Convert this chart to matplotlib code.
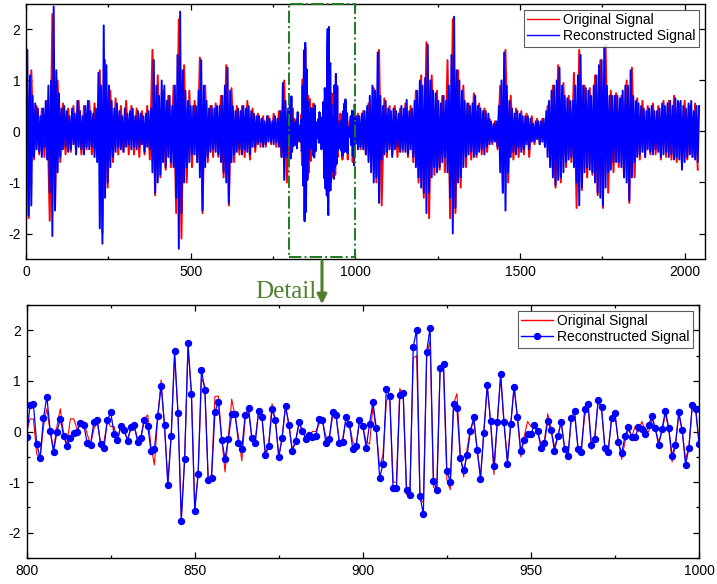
import matplotlib
matplotlib.use("Agg")
import matplotlib.pyplot as plt
import numpy as np
from matplotlib.patches import Rectangle, FancyArrowPatch
from matplotlib.ticker import MultipleLocator

plt.rcParams["font.family"] = ["Liberation Sans", "DejaVu Sans"]
plt.rcParams["axes.unicode_minus"] = False

# ---- detail window (samples 800..1000), read point by point ----
detail_start = 800
recon_detail = [
    -0.10, 0.52, 0.54, -0.25, -0.53, 0.27, 0.69, 0.01, -0.40, 0.00,
    0.25, -0.08, -0.29, -0.12, -0.02, 0.00, 0.17, 0.13, -0.23, -0.26,
    0.19, 0.23, -0.25, -0.33, 0.23, 0.38, -0.05, -0.16, 0.11, 0.03,
    -0.18, 0.08, 0.12, -0.20, -0.12, 0.23, 0.11, -0.39, -0.35, 0.31,
    0.90, 0.13, -1.06, -0.09, 1.59, 0.36, -1.76, -0.55, 1.74, 0.74,
    -1.58, -0.84, 1.22, 0.82, -0.95, -0.91, 0.38, 0.59, -0.16, -0.54,
    -0.14, 0.34, 0.35, -0.22, -0.34, 0.33, 0.46, -0.13, -0.23, 0.41,
    0.28, -0.47, -0.28, 0.45, 0.22, -0.51, -0.12, 0.51, 0.13, -0.39,
    -0.19, 0.18, 0.01, -0.14, -0.07, -0.11, -0.09, 0.24, 0.23, -0.22,
    -0.14, 0.38, 0.33, -0.22, -0.20, 0.28, 0.15, -0.35, -0.28, 0.22,
    0.10, -0.32, 0.15, 0.58, 0.06, -0.91, -0.65, 0.85, 0.70, -1.12,
    -1.11, 0.72, 0.77, -1.16, -1.26, 1.68, 2.01, -1.28, -1.64, 1.57,
    2.05, -0.97, -1.16, 1.25, 1.34, -0.78, -0.99, 0.54, 0.47, -0.53,
    -0.77, -0.47, 0.01, 0.28, -0.36, -0.93, -0.02, 0.91, 0.20, -0.69,
    0.19, 1.13, 0.18, -0.64, 0.14, 0.88, 0.28, -0.38, -0.16, -0.05,
    -0.05, 0.13, 0.01, -0.33, -0.23, 0.20, 0.03, -0.38, -0.09, 0.19,
    -0.34, -0.48, 0.26, 0.40, -0.34, -0.41, 0.45, 0.55, -0.26, -0.14,
    0.63, 0.48, -0.32, -0.40, 0.26, 0.36, -0.21, -0.43, -0.09, 0.08,
    -0.11, -0.11, 0.08, 0.05, -0.05, 0.12, 0.30, 0.06, -0.27, 0.05,
    0.41, 0.07, -0.48, -0.26, 0.38, 0.03, -0.66, -0.32, 0.53, 0.45,
    -0.24,
]
orig_detail = [
    0.00, 0.25, 0.25, -0.45, -0.52, 0.10, 0.45, 0.00, -0.35, 0.10,
    0.45, -0.05, -0.25, 0.25, 0.25, 0.05, 0.15, 0.20, -0.05, -0.25,
    0.05, 0.20, -0.25, -0.20, 0.20, 0.10, 0.10, -0.20, 0.10, 0.00,
    -0.15, 0.05, 0.10, -0.15, -0.10, 0.25, 0.33, -0.30, -0.66, 0.30,
    1.02, 0.10, -1.00, -0.05, 1.50, 0.40, -1.70, -0.50, 1.65, 0.80,
    -1.50, -0.85, 1.05, 0.90, -0.95, -0.85, 0.69, 0.70, -0.10, -0.80,
    -0.10, 0.64, 0.30, -0.10, -0.58, 0.25, 0.40, -0.15, -0.15, 0.40,
    0.28, -0.45, -0.25, 0.55, 0.20, -0.50, -0.10, 0.50, 0.15, -0.35,
    -0.20, 0.15, 0.05, -0.10, -0.10, 0.00, 0.00, 0.15, 0.20, -0.10,
    -0.15, 0.30, 0.35, -0.20, -0.15, 0.25, 0.15, -0.20, -0.30, 0.20,
    0.10, -0.20, -0.25, 0.50, 0.00, -0.70, -0.45, 0.60, 0.70, -1.00,
    -1.00, 0.85, 0.70, -1.25, -1.20, 1.45, 1.50, -1.35, -1.40, 1.50,
    1.80, -1.10, -1.15, 1.30, 1.20, -0.95, -1.15, 0.55, 0.75, -0.45,
    -0.90, -0.35, 0.05, 0.20, -0.35, -0.90, 0.00, 0.90, 0.20, -0.85,
    0.20, 1.10, 0.15, -0.55, 0.15, 0.90, 0.25, -0.50, -0.10, 0.20,
    0.10, 0.10, 0.00, -0.25, -0.20, 0.35, 0.05, -0.30, -0.10, 0.20,
    -0.30, -0.55, 0.25, 0.30, -0.30, -0.30, 0.30, 0.50, -0.35, -0.10,
    0.60, 0.45, -0.35, -0.35, 0.25, 0.35, -0.20, -0.55, -0.20, 0.05,
    -0.10, 0.10, 0.00, 0.20, 0.00, 0.00, 0.25, 0.05, -0.20, 0.00,
    0.35, 0.05, -0.60, -0.25, 0.35, 0.00, -0.55, -0.30, 0.50, 0.45,
    -0.20,
]

# ---- full record, outside the detail window (read coarsely) ----
# reconstructed: every 4th sample, 0..796 and 1004..2044
recon_head = [
    -0.6, 1.6, -1.65, 1.1, -1.45, 0.7, -0.5, 0.55, -0.35, 0.45, -0.4, 0.3, -0.5, 0.45, -0.3, 0.6,
    -0.55, 0.9, -1.2, 1.0, -2.05, 2.45, -1.55, 1.2, -0.8, 0.75, -0.5, 0.45, -0.35, 0.5, -0.3, 0.4,
    -0.4, 0.3, -0.35, 0.45, -0.25, 0.35, -0.45, 0.6, -0.3, 0.4, -0.35, 0.3, -0.45, 0.5, -0.3, 0.6,
    -0.35, 0.4, -0.3, 0.35, -0.5, 0.45, -0.6, 1.15, -1.9, 0.9, -2.2, 2.08, -1.3, 1.3, -1.0, 0.9,
    -0.7, 0.6, -0.5, 0.45, -0.4, 0.55, -0.3, 0.4, -0.35, 0.3, -0.4, 0.45, -0.3, 0.35, -0.25, 0.4,
    -0.35, 0.45, -0.3, 0.3, -0.35, 0.4, -0.3, 0.35, -0.25, 0.3, -0.4, 0.35, -0.3, 0.4, -0.35, 0.45,
    -0.8, 1.4, -1.2, 0.9, -1.0, 0.7, -0.85, 1.0, -0.6, 0.9, -0.7, 0.6, -0.5, 0.7, -0.6, 0.5,
    -0.7, 0.9, -1.3, 1.5, -2.3, 2.35, -1.6, 1.2, -1.0, 0.8, -0.7, 0.6, -0.6, 0.5, -0.45, 0.5,
    -0.45, 0.5, -0.6, 0.8, -0.9, 1.4, -1.55, 0.9, -0.7, 0.6, -0.5, 0.45, -0.4, 0.5, -0.35, 0.45,
    -0.4, 0.5, -0.45, 0.5, -0.6, 0.7, -0.8, 0.9, -1.0, 1.25, -1.4, 0.8, -0.6, 0.5, -0.45, 0.4,
    -0.4, 0.45, -0.35, 0.4, -0.45, 0.5, -0.35, 0.45, -0.4, 0.5, -0.45, 0.4, -0.3, 0.35, -0.3, 0.3,
    -0.25, 0.3, -0.2, 0.25, -0.3, 0.2, -0.25, 0.3, -0.2, 0.25, -0.2, 0.2, -0.25, 0.3, -0.2, 0.25,
    -0.3, 0.4, -0.5, 0.95, -0.95, 0.6, -0.5, 0.45,
]
recon_tail = [
    0.3, -0.35, 0.3, -0.3, 0.35,
    -0.35, 0.4, -0.45, 0.5, -0.6, 0.7, -0.8, 0.9, -1.0, 0.8, -0.9, 1.55, -1.4, 0.7, -0.55, 0.5,
    -0.45, 0.6, -0.4, 0.45, -0.35, 0.4, -0.5, 0.45, -0.35, 0.4, -0.3, 0.35, -0.4, 0.5, -0.35, 0.45,
    -0.4, 0.62, -0.45, 0.4, -0.35, 0.45, -0.5, 0.6, -0.7, 0.8, -0.9, 1.0, -1.1, 0.9, -1.2, 1.05,
    -1.6, 1.7, -1.2, 1.0, -0.9, 0.8, -0.7, 0.75, -0.8, 0.6, -0.7, 0.55, -0.6, 0.7, -0.5, 0.6,
    -0.8, 0.9, -1.3, 1.5, -2.0, 2.25, -1.5, 1.2, -1.0, 1.0, -0.9, 0.8, -0.7, 0.6, -0.5, 0.55,
    -0.45, 0.5, -0.4, 0.55, -0.5, 0.7, -0.45, 0.5, -0.4, 0.45, -0.35, 0.4, -0.45, 0.4, -0.3, 0.35,
    -0.25, 0.2, -0.2, 0.15, -0.2, 0.2, -0.3, 0.5, -0.8, 1.0, -1.2, 1.55, -1.55, 0.9, -0.8, 0.6,
    -0.5, 0.45, -0.4, 0.35, -0.45, 0.4, -0.3, 0.35, -0.4, 0.3, -0.35, 0.3, -0.25, 0.3, -0.35, 0.25,
    -0.2, 0.15, -0.2, 0.2, -0.15, 0.2, -0.25, 0.2, -0.2, 0.25, -0.3, 0.4, -0.5, 0.6, -0.7, 0.8,
    -0.9, 0.9, -1.05, 1.0, -0.95, 1.25, -0.9, 0.9, -0.8, 0.7, -0.6, 0.65, -0.55, 0.6, -0.5, 0.6,
    -0.7, 0.9, -1.0, 1.1, -1.45, 1.5, -1.1, 0.9, -0.8, 0.85, -0.7, 0.8, -0.75, 0.7, -0.8, 0.9,
    -1.0, 1.1, -1.2, 1.3, -1.3, 1.4, -1.45, 1.65, -1.1, 0.9, -0.8, 0.7, -0.75, 0.7, -0.6, 0.7,
    -0.6, 0.7, -0.6, 0.65, -0.7, 0.8, -0.9, 0.9, -1.0, 0.9, -1.35, 1.2, -0.9, 0.7, -0.6, 0.6,
    -0.5, 0.55, -0.45, 0.5, -0.4, 0.45, -0.5, 0.4, -0.35, 0.45, -0.4, 0.5, -0.45, 0.4, -0.35, 0.4,
    -0.4, 0.45, -0.5, 0.55, -0.45, 0.5, -0.4, 0.55, -0.5, 0.6, -0.45, 0.5, -0.55, 0.65, -0.5, 0.6,
    -0.55, 0.6, -0.75, 0.5, -0.6, 0.45, -0.5, 0.55, -0.45, 0.6, -0.5, 0.4, -0.55, 0.5, -0.6, 0.5,
]
# original: every 8th sample, 0..792 and 1008..2040
orig_head = [
    0.5, -1.7, 1.2, -0.55, 0.5, -0.45, 0.45, -0.5, 0.6, -1.75,
    2.3, -1.5, 1.0, -0.6, 0.55, -0.45, 0.45, -0.4, 0.5, -0.4,
    0.6, -0.45, 0.5, -0.35, 0.6, -0.45, 0.55, -0.5, 1.2, -2.0,
    1.4, -1.1, 0.8, -0.6, 0.65, -0.45, 0.5, -0.4, 0.6, -0.45,
    0.5, -0.45, 0.45, -0.5, 0.4, -0.45, 0.5, -0.55, 1.6, -1.25,
    1.1, -0.9, 0.8, -0.75, 0.7, -0.7, 0.9, -1.6, 2.2, -2.1,
    1.3, -1.0, 0.8, -0.7, 0.6, -0.6, 1.45, -1.6, 0.9, -0.6,
    0.5, -0.5, 0.55, -0.5, 0.7, -0.9, 1.3, -1.45, 0.85, -0.6,
    0.5, -0.45, 0.5, -0.5, 0.6, -0.55, 0.45, -0.4, 0.35, -0.3,
    0.3, -0.3, 0.3, -0.25, 0.35, -0.3, 0.4, -0.5, 1.0, -1.0,
]
orig_tail = [
    0.35, -0.35, 0.4, -0.45, 0.55, -0.7, 0.85, -1.0, 1.6, -1.45,
    0.65, -0.5, 0.5, -0.45, 0.5, -0.5, 0.45, -0.4, 0.55, -0.5,
    0.5, -0.6, 0.8, -1.0, 1.1, -1.3, 1.75, -1.7, 1.1, -0.85,
    0.8, -0.75, 0.7, -0.8, 1.4, -1.7, 2.2, -1.6, 1.2, -1.1,
    0.9, -0.7, 0.55, -0.55, 0.75, -0.5, 0.55, -0.45, 0.45, -0.4,
    0.25, -0.25, 0.2, -0.35, 0.9, -1.2, 1.6, -1.0, 0.7, -0.55,
    0.45, -0.5, 0.4, -0.45, 0.35, -0.5, 0.3, -0.25, 0.25, -0.25,
    0.25, -0.3, 0.5, -0.7, 0.9, -1.1, 1.3, -1.0, 0.95, -0.7,
    0.7, -0.6, 1.15, -1.5, 1.6, -1.15, 0.9, -0.9, 0.85, -0.85,
    1.1, -1.25, 1.4, -1.5, 1.7, -1.2, 0.8, -0.8, 0.75, -0.7,
    0.7, -0.9, 1.0, -1.4, 1.25, -0.9, 0.65, -0.55, 0.6, -0.5,
    0.5, -0.45, 0.55, -0.45, 0.5, -0.55, 0.6, -0.5, 0.6, -0.55,
    0.7, -0.6, 0.55, -0.65, 0.6, -0.55, 0.5, -0.5, 0.55, -0.75,
]

labels = ["Original Signal", "Reconstructed Signal"]
RED, BLUE = "#ff0000", "#0000ff"

# sample indices
x_det = np.arange(detail_start, detail_start + len(recon_detail))
x_rec = np.concatenate([np.arange(len(recon_head)) * 4, x_det,
                        1004 + np.arange(len(recon_tail)) * 4])
y_rec = np.concatenate([recon_head, recon_detail, recon_tail])
x_org = np.concatenate([np.arange(len(orig_head)) * 8, x_det,
                        1008 + np.arange(len(orig_tail)) * 8])
y_org = np.concatenate([orig_head, orig_detail, orig_tail])


def style(ax):
    for s in ax.spines.values():
        s.set_linewidth(1.0)
    ax.tick_params(which="both", direction="in", top=True, right=True,
                   labelsize=10, width=0.9, pad=4)
    ax.tick_params(which="major", length=4)
    ax.tick_params(which="minor", length=2.5)


def legend(ax):
    leg = ax.legend(loc="upper right", fontsize=10, frameon=True, fancybox=False,
                    edgecolor="#333333", borderaxespad=0.4, handlelength=2.3,
                    handletextpad=0.3, labelspacing=0.15, borderpad=0.25)
    leg.get_frame().set_linewidth(0.8)
    for h in leg.get_lines():
        h.set_linewidth(1.0)


fig = plt.figure(figsize=(7.17, 5.84), dpi=100)

# ---- top: whole record ----
ax1 = fig.add_axes([0.0363, 0.5565, 0.947, 0.4367])
ax1.plot(x_org, y_org, color=RED, lw=1.4, label=labels[0])
ax1.plot(x_rec, y_rec, color=BLUE, lw=1.4, label=labels[1])
ax1.set_xlim(0, 2062)
ax1.set_ylim(-2.5, 2.5)
ax1.xaxis.set_major_locator(MultipleLocator(500))
ax1.xaxis.set_minor_locator(MultipleLocator(250))
ax1.yaxis.set_major_locator(MultipleLocator(1))
style(ax1)
legend(ax1)

# dash-dot box marking the detail window
ax1.add_patch(Rectangle((800, -2.46), 200, 4.95, fill=False, ec="#1f7a1f",
                        lw=1.4, ls="-.", clip_on=False, zorder=5))

# ---- bottom: detail ----
ax2 = fig.add_axes([0.0372, 0.0445, 0.9377, 0.4332])
ax2.plot(x_det, orig_detail, color=RED, lw=0.8, label=labels[0])
ax2.plot(x_det, recon_detail, color=BLUE, lw=0.9, marker="o", ms=4.3,
         label=labels[1])
ax2.set_xlim(800, 1000)
ax2.set_ylim(-2.5, 2.5)
ax2.xaxis.set_major_locator(MultipleLocator(50))
ax2.xaxis.set_minor_locator(MultipleLocator(25))
ax2.yaxis.set_major_locator(MultipleLocator(1))
ax2.yaxis.set_minor_locator(MultipleLocator(0.5))
style(ax2)
legend(ax2)

# arrow + label between the panels
W, H = 717, 584
arrow = FancyArrowPatch((322 / W, 1 - 258 / H), (322 / W, 1 - 307 / H),
                        transform=fig.transFigure, arrowstyle="-|>",
                        mutation_scale=14, color="#4f7f2a", lw=2.2)
fig.patches.append(arrow)
fig.text(255 / W, 1 - 298 / H, "Detail", color="#4f7f2a", fontsize=18,
         family=["Liberation Serif", "DejaVu Serif"], ha="left", va="baseline")

fig.savefig("out.png", dpi=100)
